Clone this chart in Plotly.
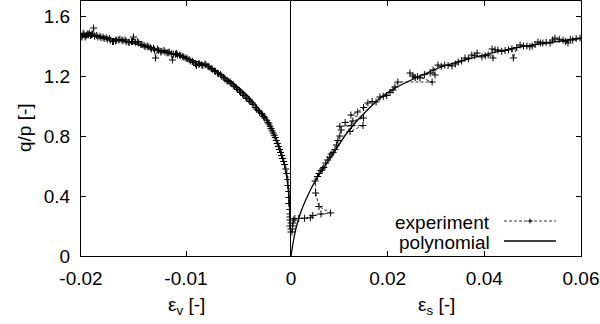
import plotly.graph_objects as go

# ---------------- data ----------------
# polynomial fit, left branch: eps_v vs q/p
poly_ev = [-0.020, -0.018, -0.016, -0.014, -0.012, -0.010, -0.008, -0.006, -0.005,
           -0.004, -0.003, -0.002, -0.0015, -0.001, -0.0006, -0.0003, -0.0001, 0.0]
poly_ev_q = [1.475, 1.46, 1.435, 1.398, 1.36, 1.32, 1.27, 1.18, 1.125,
             1.06, 0.975, 0.875, 0.80, 0.71, 0.60, 0.47, 0.30, 0.0]

# polynomial fit, right branch: eps_s vs q/p
poly_es = [0.0, 0.0005, 0.001, 0.002, 0.003, 0.005, 0.0083, 0.0118, 0.016, 0.020,
           0.025, 0.032, 0.039, 0.046, 0.053, 0.060]
poly_es_q = [0.0, 0.10, 0.18, 0.29, 0.37, 0.50, 0.66, 0.83, 0.98, 1.09,
             1.175, 1.27, 1.333, 1.385, 1.42, 1.45]

# experiment, left branch
exp_ev = [0.0, 0.0, -0.0001, 0.0, -0.0001, -0.0001, -0.0001, -0.0001, -0.0002, -0.0002,
          -0.0002, -0.0003, -0.0003, -0.0004, -0.0005, -0.0006, -0.0007, -0.0008, -0.0009,
          -0.0010, -0.0011, -0.0012, -0.0013, -0.0014, -0.0015, -0.0016, -0.0017, -0.0018,
          -0.0019, -0.0020, -0.0021, -0.0022, -0.0023, -0.0025, -0.0026, -0.0027, -0.0028,
          -0.0030, -0.0031, -0.0033, -0.0034, -0.0036, -0.0037, -0.0039, -0.0040, -0.0042,
          -0.0043, -0.0045, -0.0046, -0.0048, -0.0049, -0.0051, -0.0052, -0.0054, -0.0055,
          -0.0057, -0.0058, -0.0060, -0.0061, -0.0063, -0.0064, -0.0066, -0.0067, -0.0069,
          -0.0070, -0.0072, -0.0073, -0.0075, -0.0076, -0.0078, -0.0079, -0.0081, -0.0082,
          -0.0084, -0.0085, -0.0087, -0.0088, -0.0090, -0.0091, -0.0093, -0.0094, -0.0096,
          -0.0097, -0.0099, -0.0100, -0.0102, -0.0103, -0.0105, -0.0106, -0.0108, -0.0109,
          -0.0110, -0.0112, -0.0113, -0.0114, -0.0116, -0.0117, -0.0118, -0.0120, -0.0121,
          -0.0123, -0.0124, -0.0126, -0.0127, -0.0129, -0.0130, -0.0131, -0.0133, -0.0134,
          -0.0136, -0.0137, -0.0139, -0.0140, -0.0142, -0.0143, -0.0145, -0.0146, -0.0148,
          -0.0150, -0.0151, -0.0152, -0.0154, -0.0155, -0.0157, -0.0158, -0.0160, -0.0161,
          -0.0163, -0.0164, -0.0166, -0.0167, -0.0169, -0.0170, -0.0172, -0.0173, -0.0175,
          -0.0176, -0.0178, -0.0179, -0.0181, -0.0182, -0.0184, -0.0185, -0.0187, -0.0188,
          -0.0189, -0.0190, -0.0191, -0.0192, -0.0193, -0.0194, -0.0195, -0.0196, -0.0197,
          -0.0198, -0.0199, -0.0200]
exp_ev_q = [0.16, 0.18, 0.20, 0.22, 0.24, 0.26, 0.28, 0.31, 0.35, 0.39,
            0.43, 0.47, 0.51, 0.55, 0.58, 0.61, 0.63, 0.65, 0.67,
            0.69, 0.71, 0.73, 0.75, 0.77, 0.79, 0.805, 0.82, 0.835,
            0.85, 0.865, 0.88, 0.89, 0.905, 0.92, 0.93, 0.94, 0.95,
            0.96, 0.97, 0.98, 0.99, 1.01, 1.02, 1.03, 1.04, 1.05,
            1.06, 1.07, 1.08, 1.09, 1.10, 1.11, 1.12, 1.13, 1.14,
            1.15, 1.16, 1.165, 1.17, 1.18, 1.19, 1.20, 1.21, 1.215,
            1.22, 1.23, 1.235, 1.245, 1.25, 1.26, 1.265, 1.275, 1.28,
            1.27, 1.275, 1.28, 1.28, 1.27, 1.28, 1.29, 1.30, 1.30,
            1.31, 1.315, 1.32, 1.325, 1.33, 1.335, 1.34, 1.34, 1.35,
            1.345, 1.345, 1.307, 1.35, 1.36, 1.355, 1.355, 1.36, 1.37,
            1.365, 1.36, 1.37, 1.38, 1.32, 1.375, 1.385, 1.38, 1.39,
            1.395, 1.40, 1.395, 1.405, 1.41, 1.41, 1.42, 1.43, 1.425,
            1.46, 1.43, 1.43, 1.425, 1.425, 1.43, 1.44, 1.435, 1.44,
            1.445, 1.44, 1.44, 1.435, 1.43, 1.43, 1.44, 1.45, 1.445,
            1.455, 1.45, 1.46, 1.455, 1.465, 1.46, 1.47, 1.465, 1.52,
            1.48, 1.475, 1.47, 1.485, 1.475, 1.48, 1.47, 1.46, 1.475,
            1.485, 1.46, 1.465]

# experiment, right branch
exp_es = [0.0002, 0.0003, 0.0003, 0.0004, 0.0005, 0.0008, 0.0016, 0.0028, 0.0040, 0.0045,
          0.0062, 0.0082, 0.0058, 0.0051, 0.0050, 0.0055, 0.0058, 0.0062, 0.0065, 0.0068,
          0.0072, 0.0076, 0.0080, 0.0083, 0.0087, 0.0091, 0.0094, 0.0097, 0.0101, 0.0104,
          0.0101, 0.0125, 0.0149, 0.0122, 0.0112, 0.0128, 0.0150, 0.0124, 0.0138, 0.0150,
          0.0159, 0.0168, 0.0176, 0.0184, 0.0191, 0.0198, 0.0205, 0.0211, 0.0215, 0.0221,
          0.0292, 0.0246, 0.0252, 0.0257, 0.0262, 0.0267, 0.0276, 0.0288, 0.0298, 0.0294,
          0.0304, 0.0311, 0.0318, 0.0325, 0.0333, 0.0340, 0.0346, 0.0353, 0.0360, 0.0367,
          0.0374, 0.0380, 0.0385, 0.0395, 0.0402, 0.0408, 0.0418, 0.0416, 0.0422, 0.0428,
          0.0436, 0.0443, 0.0450, 0.0457, 0.0460, 0.0467, 0.0474, 0.0481, 0.0488, 0.0494,
          0.0499, 0.0505, 0.0511, 0.0516, 0.0521, 0.0528, 0.0536, 0.0541, 0.0546, 0.0555,
          0.0563, 0.0568, 0.0573, 0.0578, 0.0583, 0.0590, 0.0598]
exp_es_q = [0.16, 0.18, 0.20, 0.22, 0.24, 0.25, 0.25, 0.252, 0.255, 0.27,
            0.28, 0.287, 0.33, 0.42, 0.50, 0.53, 0.55, 0.57, 0.58, 0.59,
            0.62, 0.64, 0.66, 0.68, 0.69, 0.71, 0.74, 0.77, 0.80, 0.84,
            0.865, 0.87, 0.87, 0.83, 0.89, 0.90, 0.92, 0.94, 0.96, 0.99,
            1.02, 1.03, 1.027, 1.06, 1.065, 1.07, 1.09, 1.107, 1.127, 1.16,
            1.16, 1.22, 1.20, 1.19, 1.195, 1.187, 1.21, 1.22, 1.207, 1.24,
            1.273, 1.265, 1.273, 1.27, 1.267, 1.28, 1.293, 1.30, 1.32, 1.315,
            1.34, 1.335, 1.353, 1.327, 1.335, 1.34, 1.32, 1.38, 1.375, 1.373,
            1.365, 1.37, 1.375, 1.38, 1.32, 1.39, 1.407, 1.40, 1.40, 1.395,
            1.40, 1.41, 1.427, 1.42, 1.42, 1.425, 1.42, 1.44, 1.453, 1.445,
            1.44, 1.43, 1.42, 1.445, 1.44, 1.45, 1.453]

y_ticks = [0, 0.4, 0.8, 1.2, 1.6]
y_tick_text = ["0", "0.4", "0.8", "1.2", "1.6"]
xl_ticks = [-0.02, -0.01, 0]
xl_tick_text = ["-0.02", "-0.01", "0"]
xr_ticks = [0.02, 0.04, 0.06]
xr_tick_text = ["0.02", "0.04", "0.06"]

# ---------------- figure ----------------
FONT = "Liberation Sans, Arial, sans-serif"
FS = 19
exp_style = dict(mode="lines+markers",
                 line=dict(color="black", width=0.8, dash="3px,2px"),
                 marker=dict(symbol="cross-thin", size=5, line=dict(color="black", width=1)),
                 showlegend=False)
poly_style = dict(mode="lines", line=dict(color="black", width=1.3, shape="spline"),
                  showlegend=False)

fig = go.Figure()
fig.add_trace(go.Scatter(x=exp_ev, y=exp_ev_q, xaxis="x", yaxis="y", **exp_style))
fig.add_trace(go.Scatter(x=poly_ev, y=poly_ev_q, xaxis="x", yaxis="y", **poly_style))
fig.add_trace(go.Scatter(x=exp_es, y=exp_es_q, xaxis="x2", yaxis="y2", **exp_style))
fig.add_trace(go.Scatter(x=poly_es, y=poly_es_q, xaxis="x2", yaxis="y2", **poly_style))

split = 210 / 500
axis_common = dict(showgrid=False, zeroline=False, showline=True, linecolor="black",
                   linewidth=1, ticks="inside", ticklen=5, tickcolor="black",
                   tickfont=dict(family=FONT, size=FS, color="black"))

fig.update_layout(
    width=600, height=324,
    margin=dict(l=81, r=19, t=1, b=68),
    paper_bgcolor="white", plot_bgcolor="white",
    font=dict(family=FONT, size=FS, color="black"),
    xaxis=dict(domain=[0, split], range=[-0.02, 0], anchor="y", mirror="ticks",
               tickvals=xl_ticks, ticktext=xl_tick_text, ticklabelstandoff=5, **axis_common),
    xaxis2=dict(domain=[split, 1], range=[0, 0.06], anchor="y", mirror="ticks",
                tickvals=xr_ticks, ticktext=xr_tick_text, ticklabelstandoff=5, **axis_common),
    yaxis=dict(range=[0, 1.7], anchor="x", tickvals=y_ticks, ticktext=y_tick_text,
               ticklabelstandoff=6, **axis_common),
    yaxis2=dict(range=[0, 1.7], anchor="x2", overlaying="y", side="right", matches="y",
                tickvals=y_ticks, showticklabels=False, **axis_common),
)

# zero line separating the two strain axes
fig.add_shape(type="line", xref="x", yref="paper", x0=0, x1=0, y0=0, y1=1,
              line=dict(color="black", width=2), layer="above")


def px(xp):
    return (xp - 81) / 500


def py(yp):
    return (256 - yp) / 255


# axis titles
fig.add_annotation(text="q/p [-]", xref="paper", yref="paper", x=px(24), y=py(128),
                   textangle=-90, showarrow=False, xanchor="center", yanchor="middle",
                   font=dict(family=FONT, size=FS))
fig.add_annotation(text="ε<sub>v</sub> [-]", xref="paper", yref="paper", x=px(186), y=py(306),
                   showarrow=False, xanchor="center", yanchor="middle",
                   font=dict(family=FONT, size=FS))
fig.add_annotation(text="ε<sub>s</sub> [-]", xref="paper", yref="paper", x=px(436), y=py(306),
                   showarrow=False, xanchor="center", yanchor="middle",
                   font=dict(family=FONT, size=FS))

# legend (gnuplot style: text then sample)
fig.add_annotation(text="experiment", xref="paper", yref="paper", x=px(492), y=py(222),
                   showarrow=False, xanchor="right", yanchor="middle",
                   font=dict(family=FONT, size=FS))
fig.add_annotation(text="polynomial", xref="paper", yref="paper", x=px(492), y=py(242),
                   showarrow=False, xanchor="right", yanchor="middle",
                   font=dict(family=FONT, size=FS))
fig.add_shape(type="line", xref="paper", yref="paper", x0=px(504), x1=px(556),
              y0=py(221), y1=py(221), line=dict(color="black", width=0.8, dash="3px,2px"))
fig.add_shape(type="line", xref="paper", yref="paper", x0=px(527.5), x1=px(532.5),
              y0=py(221), y1=py(221), line=dict(color="black", width=1))
fig.add_shape(type="line", xref="paper", yref="paper", x0=px(530), x1=px(530),
              y0=py(218.5), y1=py(223.5), line=dict(color="black", width=1))
fig.add_shape(type="line", xref="paper", yref="paper", x0=px(504), x1=px(556),
              y0=py(241), y1=py(241), line=dict(color="black", width=1.3))

fig.write_html("out.html")
